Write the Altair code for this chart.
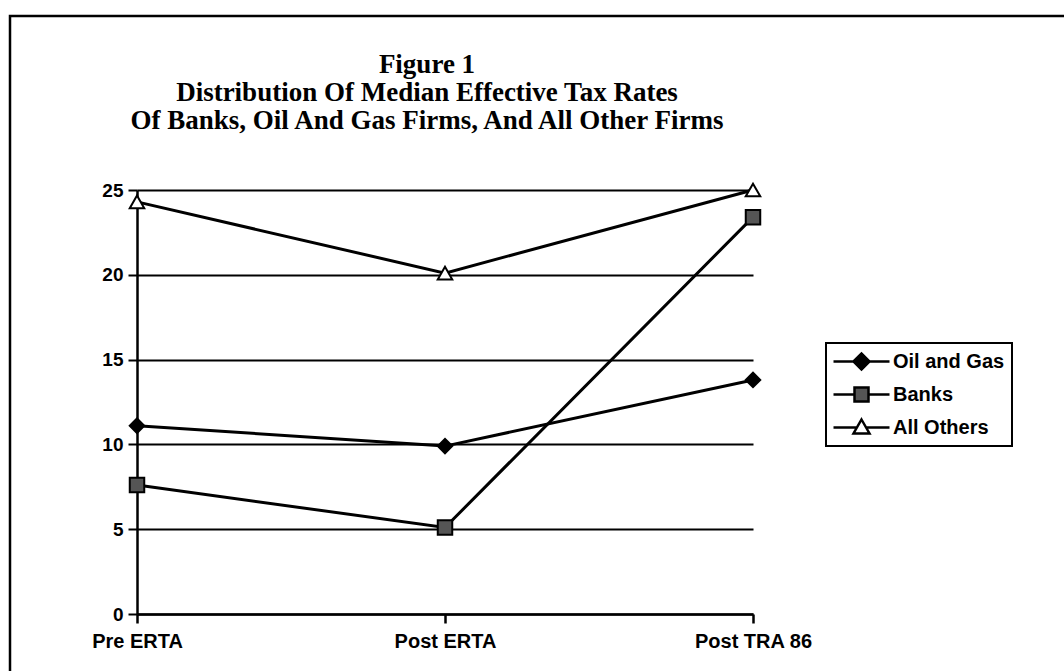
import altair as alt
import pandas as pd

periods = ["Pre ERTA", "Post ERTA", "Post TRA 86"]
series_names = ["Oil and Gas", "Banks", "All Others"]
oil_gas = [11.1, 9.9, 13.8]
banks = [7.6, 5.1, 23.4]
all_others = [24.3, 20.1, 25.0]

rows = []
for name, vals in zip(series_names, [oil_gas, banks, all_others]):
    for p, v in zip(periods, vals):
        rows.append({"period": p, "series": name, "entry": name, "rate": v})
df = pd.DataFrame(rows)

W, H = 616, 424
PAD_L, PAD_T = 137, 190
FRAME_TOP, FRAME_LEFT = 16, 10

x_enc = alt.X("period:N", sort=periods, scale=alt.Scale(type="point", padding=0),
              axis=alt.Axis(title=None, labelAngle=0, labelFont="Liberation Sans",
                            labelFontWeight="bold", labelFontSize=20, labelColor="black",
                            labelPadding=8, tickSize=9, tickColor="black", tickWidth=2.5,
                            domainColor="black", domainWidth=2.5, grid=False))
y_enc = alt.Y("rate:Q", scale=alt.Scale(domain=[0, 25], nice=False),
              axis=alt.Axis(title=None, values=[0, 5, 10, 15, 20, 25],
                            labelFont="Liberation Sans", labelFontWeight="bold",
                            labelFontSize=19, labelColor="black", labelPadding=5,
                            tickSize=9, tickColor="black", tickWidth=2,
                            domainColor="black", domainWidth=2.5,
                            grid=True, gridColor="black", gridWidth=2, gridOpacity=1))

# legend symbols (unit radius = 10px): line segment with marker in the middle
diamond = "M-2.8,0H2.8M-0.8,0L0,-0.8L0.8,0L0,0.8Z"
square = "M-2.8,0H-0.7M0.7,0H2.8M-0.7,-0.7H0.7V0.7H-0.7Z"
triangle = "M-2.8,0H-0.45M0.45,0H2.8M0,-0.8L0.8,0.6H-0.8Z"

legend = alt.Legend(
    title=None, orient="none", legendX=689, legendY=153,
    labelFont="Liberation Sans", labelFontWeight="bold", labelFontSize=20,
    labelColor="black", symbolSize=400, symbolStrokeWidth=2.5,
    symbolOpacity=1, symbolOffset=17, labelOffset=20,
    rowPadding=7, padding=7,
)

lines = alt.Chart(df).mark_line(color="black", strokeWidth=3).encode(
    x=x_enc, y=y_enc, detail="series:N")

points = alt.Chart(df).mark_point(filled=True, stroke="black", strokeWidth=2,
                                  size=210, opacity=1).encode(
    x=x_enc, y=y_enc,
    shape=alt.Shape("series:N", sort=series_names,
                    scale=alt.Scale(domain=series_names,
                                    range=["diamond", "square", "triangle-up"]),
                    legend=None),
    fill=alt.Fill("series:N", sort=series_names,
                  scale=alt.Scale(domain=series_names, range=["black", "#555555", "white"]),
                  legend=None),
)

legend_layer = alt.Chart(df).mark_point(filled=True, strokeWidth=2.5, opacity=1).encode(
    shape=alt.Shape("entry:N", sort=series_names,
                    scale=alt.Scale(domain=series_names, range=[diamond, square, triangle]),
                    legend=legend),
    fill=alt.Fill("entry:N", sort=series_names,
                  scale=alt.Scale(domain=series_names, range=["black", "#555555", "white"]),
                  legend=legend),
    stroke=alt.Stroke("entry:N", sort=series_names,
                      scale=alt.Scale(domain=series_names, range=["black", "black", "black"]),
                      legend=legend),
).transform_filter("false")

frame_df = pd.DataFrame({"k": [0]})
frame = alt.Chart(frame_df).mark_rect(fill=None, stroke="black", strokeWidth=2.5).encode(
    x=alt.value(FRAME_LEFT - PAD_L), x2=alt.value(1100 - PAD_L),
    y=alt.value(FRAME_TOP - PAD_T), y2=alt.value(700 - PAD_T))

# the title is placed relative to the top of the layer bounds (the frame),
# hence a negative offset to bring it down near the plot
title_bottom = -28
frame_bound_top = FRAME_TOP - PAD_T - 1.25
title_offset = -(title_bottom - frame_bound_top)

chart = alt.layer(frame, lines, points, legend_layer).resolve_scale(
    shape="independent", fill="independent", stroke="independent"
).resolve_legend(shape="independent", fill="independent", stroke="independent").properties(
    width=W, height=H, background="white",
    padding={"left": PAD_L, "top": PAD_T, "right": 1064 - PAD_L - W, "bottom": 671 - PAD_T - H},
    autosize=alt.AutoSizeParams(type="none"),
    title=alt.TitleParams(
        ["Figure 1", "Distribution Of Median Effective Tax Rates",
         "Of Banks, Oil And Gas Firms, And All Other Firms"],
        font="Liberation Serif", fontSize=27, fontWeight="bold", color="black",
        lineHeight=28, anchor="middle", frame="group", baseline="bottom",
        dx=-18, offset=title_offset),
).configure_view(strokeOpacity=0, strokeWidth=0).configure_legend(
    strokeColor="black", strokeWidth=2
)

chart.save("out.html", embed_options={"renderer": "svg", "actions": False})
